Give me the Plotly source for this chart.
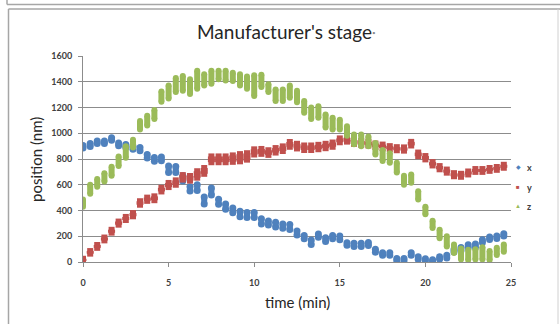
import plotly.graph_objects as go

# ---------------- data ----------------
time_min = [0, 0.42, 0.83, 1.25, 1.67, 2.08, 2.5, 2.92, 3.33, 3.75,
            4.17, 4.58, 5, 5.42, 5.83, 6.25, 6.67, 7.08, 7.5, 7.92,
            8.33, 8.75, 9.17, 9.58, 10, 10.42, 10.83, 11.25, 11.67, 12.08,
            12.5, 12.92, 13.33, 13.75, 14.17, 14.58, 15, 15.42, 15.83, 16.25,
            16.67, 17.08, 17.5, 17.92, 18.33, 18.75, 19.17, 19.58, 20, 20.42,
            20.83, 21.25, 21.67, 22.08, 22.5, 22.92, 23.33, 23.75, 24.17, 24.58]

# each cluster of repeated readings: lowest and highest value (nm)
x_low = [885, 898, 920, 920, 945, 903, 890, 875, 865, 808,
         782, 787, 695, 695, 630, 552, 555, 450, 520, 448,
         410, 382, 352, 345, 345, 295, 287, 272, 262, 252,
         210, 180, 135, 193, 160, 180, 172, 130, 120, 120,
         128, 76, 52, 52, 10, 10, 52, 20, 8, 4,
         22, 32, 78, 90, 110, 115, 152, 175, 182, 202]
x_high = [905, 920, 940, 940, 965, 925, 912, 900, 890, 835,
          812, 815, 745, 742, 670, 585, 600, 505, 575, 488,
          450, 420, 395, 385, 385, 335, 318, 308, 295, 292,
          240, 205, 170, 218, 188, 205, 202, 150, 145, 145,
          152, 100, 72, 72, 28, 28, 72, 40, 26, 18,
          40, 52, 98, 112, 134, 140, 172, 195, 202, 220]

y_low = [8, 65, 110, 168, 228, 290, 326, 355, 445, 475,
         480, 548, 582, 600, 640, 632, 655, 685, 775, 775,
         775, 778, 782, 795, 835, 840, 832, 850, 862, 895,
         882, 870, 870, 876, 884, 895, 930, 935, 918, 910,
         905, 893, 885, 876, 868, 865, 905, 822, 797, 750,
         720, 694, 666, 662, 680, 700, 700, 708, 716, 732]
y_high = [25, 85, 132, 190, 250, 314, 350, 380, 472, 500,
          510, 576, 614, 634, 675, 668, 705, 730, 820, 820,
          820, 828, 838, 845, 875, 878, 868, 885, 898, 932,
          918, 905, 905, 910, 918, 928, 960, 965, 948, 940,
          933, 920, 912, 900, 892, 890, 933, 850, 823, 776,
          745, 718, 690, 685, 703, 722, 722, 730, 738, 755]

z_low = [430, 530, 585, 625, 670, 745, 810, 890, 1030, 1060,
         1110, 1245, 1270, 1320, 1330, 1305, 1345, 1370, 1385, 1420,
         1410, 1405, 1370, 1345, 1290, 1360, 1320, 1250, 1250, 1275,
         1240, 1160, 1110, 1120, 1045, 1030, 1030, 980, 915, 900,
         900, 835, 785, 770, 695, 600, 615, 485, 370, 265,
         185, 120, 70, 20, 15, 20, 20, 15, 55, 80]
z_high = [485, 600, 645, 690, 740, 820, 900, 950, 1095, 1135,
          1180, 1325, 1370, 1430, 1445, 1420, 1485, 1458, 1485, 1485,
          1485, 1470, 1458, 1440, 1450, 1455, 1380, 1340, 1340, 1370,
          1330, 1250, 1200, 1210, 1145, 1120, 1105, 1055, 990, 990,
          975, 925, 870, 845, 770, 670, 680, 550, 430, 320,
          250, 200, 135, 105, 95, 100, 115, 85, 110, 135]

series_names = ["x", "y", "z"]
x_ticks = [0, 5, 10, 15, 20, 25]
y_ticks = [0, 200, 400, 600, 800, 1000, 1200, 1400, 1600]

# ---------------- styling ----------------
W, H = 560, 324
L, R, T, B = 83, 49, 56, 62
colors = {"x": "#4F81BD", "y": "#C0504D", "z": "#9BBB59"}
symbols = {"x": "circle", "y": "square", "z": "circle"}
msize = {"x": 7, "y": 6, "z": 6}
lwidth = {"x": 6, "y": 7, "z": 6}
FONT = "Lato"


def segs(t, lo, hi):
    xs, ys = [], []
    for a, b, c in zip(t, lo, hi):
        xs += [a, a, None]
        ys += [b, c, None]
    return xs, ys


fig = go.Figure()
for name, lo, hi in [("x", x_low, x_high), ("y", y_low, y_high), ("z", z_low, z_high)]:
    xs, ys = segs(time_min, lo, hi)
    fig.add_trace(go.Scatter(
        x=xs, y=ys, mode="lines+markers", name=name, showlegend=False,
        line=dict(color=colors[name], width=lwidth[name]),
        marker=dict(color=colors[name], symbol=symbols[name], size=msize[name], line=dict(width=0)),
        connectgaps=False, hoverinfo="skip"))


def px2paper(px, py):
    return (px - L) / (W - L - R), (H - B - py) / (H - T - B)


shapes = []
def pline(x0, y0, x1, y1, color="#a6a6a6", width=1.5):
    a0, b0 = px2paper(x0, y0)
    a1, b1 = px2paper(x1, y1)
    shapes.append(dict(type="line", xref="paper", yref="paper", x0=a0, y0=b0, x1=a1, y1=b1,
                       line=dict(color=color, width=width), layer="above"))

# window frames
pline(7, 0, 7, 4.5)
pline(7, 4.5, 560, 4.5)
pline(8.5, 9, 560, 9)
pline(8.5, 9, 8.5, 324)
pline(558, 9, 558, 324, color="#d0d0d0", width=1)

annotations = []
def ann(text, px, py, size, color="#404040", xanchor="center", yanchor="middle", angle=0, weight="normal"):
    a, b = px2paper(px, py)
    annotations.append(dict(text=text, x=a, y=b, xref="paper", yref="paper", showarrow=False,
                            xanchor=xanchor, yanchor=yanchor, textangle=angle,
                            font=dict(family=FONT, size=size, color=color, weight=weight)))

ann("Manufacturer's stage<span style='font-size:9px;color:#8a8a8a'><sup>•</sup></span>", 286, 31, 19, color="#262626")
ann("position (nm)", 36, 160, 15, color="#262626", angle=-90)
ann("time (min)", 297, 302, 15, color="#262626")

# legend
for name, py in zip(series_names, [166, 186, 205]):
    glyph = {"x": "◆", "y": "■", "z": "▲"}[name]
    ann(glyph, 518, py, 6, color=colors[name])
    ann(name, 525, py + 1, 9, color="#404040", xanchor="left", weight="bold")

fig.update_layout(
    width=W, height=H, margin=dict(l=L, r=R, t=T, b=B),
    paper_bgcolor="white", plot_bgcolor="white",
    shapes=shapes, annotations=annotations, showlegend=False,
    font=dict(family=FONT),
)
fig.update_xaxes(range=[0, 25], tickvals=x_ticks, ticktext=[str(v) for v in x_ticks],
                 showgrid=False, zeroline=False, showline=True, linecolor="#8c8c8c", linewidth=1,
                 ticks="outside", ticklen=4, tickcolor="#8c8c8c",
                 tickfont=dict(family=FONT, size=9, color="#404040", weight="bold"),
                 ticklabelstandoff=8)
fig.update_yaxes(range=[0, 1600], tickvals=y_ticks, ticktext=[str(v) for v in y_ticks],
                 showgrid=True, gridcolor="#8c8c8c", gridwidth=1, zeroline=False,
                 showline=True, linecolor="#8c8c8c", linewidth=1,
                 ticks="outside", ticklen=4, tickcolor="#8c8c8c",
                 tickfont=dict(family=FONT, size=9, color="#404040", weight="bold"),
                 ticklabelstandoff=4)

fig.write_html("out.html", config={"displayModeBar": False, "staticPlot": True},
               post_script="document.body.style.margin='0';document.body.style.overflow='hidden';")
